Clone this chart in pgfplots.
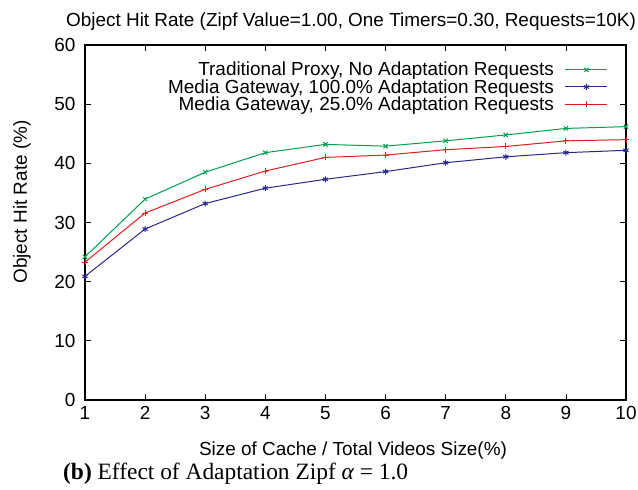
\documentclass[border=0pt]{standalone}
\usepackage{pgfplots}
\pgfplotsset{compat=1.18}
\usepackage{fontspec}
\setmainfont{Liberation Sans}
\newfontfamily\seriffont{Liberation Serif}
\definecolor{gpgreen}{RGB}{0,158,80}
\definecolor{gpblue}{RGB}{40,40,140}
\definecolor{gpred}{RGB}{225,30,30}
\begin{document}
\begin{tikzpicture}[x=1bp,y=1bp]
\path[use as bounding box] (0,0) rectangle (638,490);
\begin{axis}[
  at={(85bp,90bp)}, anchor=south west,
  scale only axis, width=541bp, height=355bp,
  xmin=1, xmax=10, ymin=0, ymax=60,
  xtick={1,...,10}, ytick={0,10,...,60},
  tick align=inside, tick pos=both,
  major tick length=6bp,
  axis line style={line width=1.1pt}, tick style={line width=0.8pt,black},
  ticklabel style={font=\fontsize{19}{21}\selectfont},
  /pgf/number format/assume math mode=true,
  xticklabel style={yshift=-3bp},
  yticklabel style={xshift=-6bp},
  legend cell align=right,
  legend plot pos=right,
  legend style={draw=none, fill=none, at={(0.967,0.955)}, anchor=north east,
    inner sep=0pt, nodes={inner sep=1bp},
    font=\fontsize{19}{21}\selectfont, row sep=0bp},
  legend image code/.code={\draw[#1,mark=none] (0bp,0bp) -- (42bp,0bp); \draw[#1] plot coordinates {(21bp,0bp)};},
]
\addplot[gpgreen, line width=1pt, mark=x, mark size=3pt] coordinates {
(1,24.2)(2,33.95)(3,38.5)(4,41.8)(5,43.2)(6,42.9)(7,43.8)(8,44.8)(9,45.9)(10,46.2)};
\addlegendentry{Traditional Proxy, No Adaptation Requests\rule{10bp}{0pt}}
\addplot[gpblue, line width=1pt, mark=asterisk, mark size=3pt] coordinates {
(1,20.9)(2,28.9)(3,33.2)(4,35.8)(5,37.3)(6,38.6)(7,40.1)(8,41.1)(9,41.8)(10,42.2)};
\addlegendentry{Media Gateway, 100.0\% Adaptation Requests\rule{10bp}{0pt}}
\addplot[gpred, line width=1pt, mark=+, mark size=3pt] coordinates {
(1,23.3)(2,31.6)(3,35.6)(4,38.7)(5,41.0)(6,41.4)(7,42.3)(8,42.85)(9,43.8)(10,44.0)};
\addlegendentry{Media Gateway, 25.0\% Adaptation Requests\rule{10bp}{0pt}}
\end{axis}
\node[font=\fontsize{19}{21}\selectfont] at (351,468) {Object Hit Rate (Zipf Value=1.00, One Timers=0.30, Requests=10K)};
\node[font=\fontsize{19}{21}\selectfont, rotate=90] at (22,288) {Object Hit Rate (\%)};
\node[font=\fontsize{19}{21}\selectfont] at (353,39) {Size of Cache / Total Videos Size(\%)};
\node[font=\seriffont\fontsize{23.5}{26}\selectfont, anchor=west, inner sep=0pt] at (63,16) {\textbf{(b)} Effect of Adaptation Zipf {\itshape α} = 1.0};
\end{tikzpicture}
\end{document}
